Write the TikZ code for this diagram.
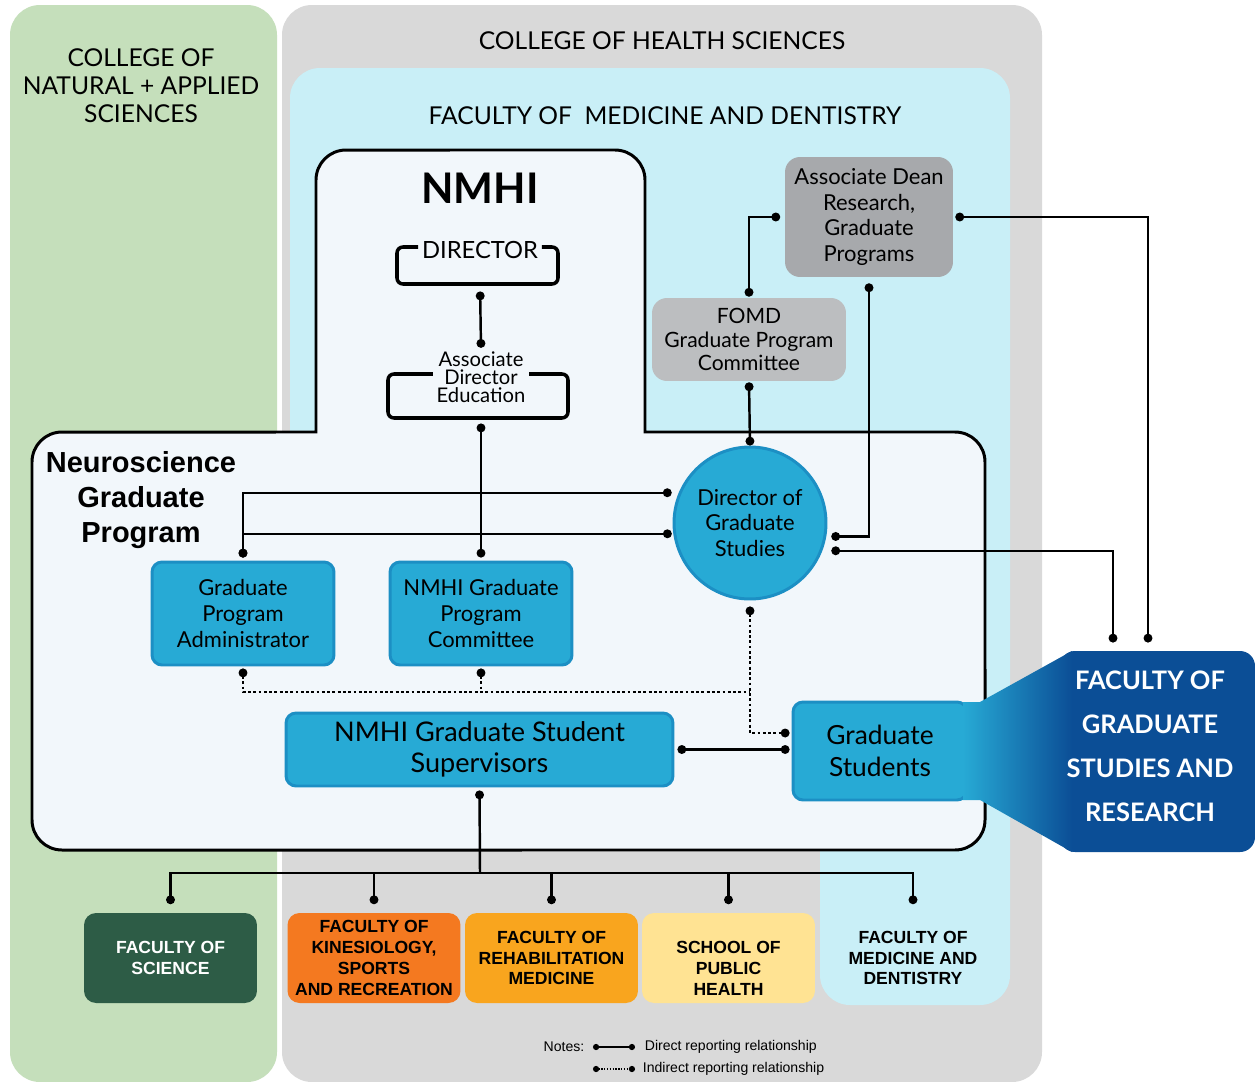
\documentclass[tikz,border=0pt]{standalone}
\usepackage{fontspec}
\setmainfont{Lato}
\newfontfamily\arialfont{Liberation Sans}
\usetikzlibrary{arrows.meta, calc, positioning}

\definecolor{nasgreen}{RGB}{197,223,187}
\definecolor{chsgrey}{RGB}{217,217,217}
\definecolor{fomdblue}{RGB}{201,239,247}
\definecolor{nmhiwhite}{RGB}{242,247,251}
\definecolor{gsblue}{RGB}{39,170,213}
\definecolor{gsedge}{RGB}{28,143,196}
\definecolor{deangrey}{RGB}{167,169,172}
\definecolor{fomdgrey}{RGB}{188,190,192}
\definecolor{fosgreen}{RGB}{45,92,70}
\definecolor{ksrorange}{RGB}{244,121,32}
\definecolor{rehabgold}{RGB}{249,165,30}
\definecolor{sphyellow}{RGB}{255,227,147}
\definecolor{fgsrblue}{RGB}{11,78,150}

\tikzset{
  region/.style   = {rounded corners=0.6cm},
  title/.style    = {align=center, font=\fontsize{14}{15.9}\selectfont},
  bluebox/.style  = {shape=rectangle, rounded corners=0.2cm,
                     draw=gsedge, line width=1.7pt, fill=gsblue, align=center,
                     font=\fontsize{12.5}{14.7}\selectfont},
  greybox/.style  = {shape=rectangle, rounded corners=0.3cm, align=center,
                     font=\fontsize{12.5}{14.7}\selectfont},
  faculty/.style  = {shape=rectangle, rounded corners=0.24cm, align=center,
                     minimum width=3.46cm, minimum height=1.8cm,
                     font=\arialfont\bfseries\fontsize{10}{11.9}\selectfont},
  factext/.style  = {align=center, font=\arialfont\bfseries\fontsize{10}{11.9}\selectfont},
  bracket/.style  = {line width=2pt, rounded corners=0.12cm},
  rel/.style      = {line width=1.4pt, arrows={Circle[length=5pt]-Circle[length=5pt]}},
  indrel/.style   = {rel, dash pattern=on 1.6pt off 1.4pt},
  dotstart/.style = {arrows={Circle[length=5pt]-}},
  dotend/.style   = {arrows={-Circle[length=5pt]}},
  legline/.style  = {line width=0.8pt, arrows={Circle[length=3.5pt]-Circle[length=3.5pt]}},
  notes/.style    = {font=\arialfont\fontsize{8}{9}\selectfont}
}

\begin{document}
\begin{tikzpicture}[x=0.02cm, y=-0.02cm, every node/.style={inner sep=2pt}]
\useasboundingbox (0,0) rectangle (1255,1082);
\fill[white] (0,0) rectangle (1255,1082);

% colleges and faculty
\fill[nasgreen, region] (10,5) rectangle (277,1082);
\fill[chsgrey, region] (282,5) rectangle (1042,1082);
\fill[fomdblue] (290,850) -- (290,98) arc[start angle=180, end angle=90, radius=0.6cm]
  -- (980,68) arc[start angle=90, end angle=0, radius=0.6cm]
  -- (1010,975) arc[start angle=0, end angle=-90, radius=0.6cm]
  -- (850,1005) arc[start angle=-90, end angle=-180, radius=0.6cm]
  -- (820,850) -- cycle;

\node[title] (cnas) at (141,86) {COLLEGE OF\\NATURAL + APPLIED\\SCIENCES};
\node[title] (chs) at (662,41) {COLLEGE OF HEALTH SCIENCES};
\node[title] (fomd) at (665,116) {FACULTY OF\ \ MEDICINE AND DENTISTRY};

% NMHI + neuroscience program
\draw[fill=nmhiwhite, line width=1.7pt] (316,432) -- (316,180) arc[start angle=180, end angle=90, radius=0.6cm]
  -- (615,150) arc[start angle=90, end angle=0, radius=0.6cm]
  -- (645,432) -- (955,432) arc[start angle=90, end angle=0, radius=0.6cm]
  -- (985,820) arc[start angle=0, end angle=-90, radius=0.6cm]
  -- (62,850) arc[start angle=-90, end angle=-180, radius=0.6cm]
  -- (32,462) arc[start angle=180, end angle=90, radius=0.6cm] -- cycle;

\node[font=\bfseries\fontsize{24}{28}\selectfont] (nmhi) at (480,188) {NMHI};
\node[align=center, font=\arialfont\bfseries\fontsize{16.5}{19.8}\selectfont] (ngp) at (141,500)
  {Neuroscience\\Graduate\\Program};

\node[font=\fontsize{13.5}{16}\selectfont] (dir) at (480,250) {DIRECTOR};
\coordinate (dirbl) at (397,284);
\coordinate (dirtr) at (558,247);
\draw[bracket] (dir.west |- dirtr) -- (dirbl |- dirtr) -- (dirbl) -- (dirtr |- dirbl) -- (dirtr) -- (dir.east |- dirtr);

\node[align=center, font=\fontsize{11.5}{10.2}\selectfont] (adir) at (481,377) {Associate\\Director\\Education};
\coordinate (adirbl) at (388,418);
\coordinate (adirtr) at (568,374);
\draw[bracket] (adir.west |- adirtr) -- (adirbl |- adirtr) -- (adirbl) -- (adirtr |- adirbl) -- (adirtr) -- (adir.east |- adirtr);

\node[greybox, fill=deangrey, minimum width=3.36cm, minimum height=2.4cm] (adean) at (869,217)
  {Associate Dean\\Research,\\Graduate\\Programs};
\node[greybox, fill=fomdgrey, minimum width=3.88cm, minimum height=1.66cm, font=\fontsize{12}{13.6}\selectfont] (fomdgpc) at (749,339.5)
  {FOMD\\Graduate Program\\Committee};

\node[bluebox, circle, minimum size=3.04cm, inner sep=0pt] (dgs) at (750,523) {Director of\\Graduate\\Studies};
\node[bluebox, minimum width=3.64cm, minimum height=2.06cm] (gpa) at (243,613.5) {Graduate\\Program\\Administrator};
\node[bluebox, minimum width=3.64cm, minimum height=2.06cm] (ngpc) at (481,613.5) {NMHI Graduate\\Program\\Committee};
\node[bluebox, minimum width=7.74cm, minimum height=1.46cm, font=\fontsize{15.4}{18}\selectfont] (sup) at (479.5,749.5)
  {NMHI Graduate Student\\Supervisors};
\node[bluebox, minimum width=3.48cm, minimum height=1.96cm, font=\fontsize{15}{18}\selectfont] (gs) at (880,751)
  {Graduate\\Students};

% FGSR
\fill[fgsrblue, rounded corners=0.3cm] (1060,651) rectangle (1255,852);
\shade[left color=gsblue, right color=fgsrblue] (963,702) -- (980,702) -- (1072,651) -- (1072,852) -- (980,800) -- (963,800) -- cycle;
\node[align=center, text=white, font=\bfseries\fontsize{14.5}{25}\selectfont] (fgsr) at (1150,746)
  {FACULTY OF\\GRADUATE\\STUDIES AND\\RESEARCH};
\coordinate (fgsrleft) at (1113,651);
\coordinate (fgsrright) at (1148,651);

% reporting lines
\draw[rel, shorten <=0.15cm] (dir |- dirbl) -- (adir.north);
\draw[rel, shorten <=0.11cm, shorten >=0.06cm] (adir |- adirbl) -- (ngpc.north);
\draw[rel, shorten <=0.09cm, shorten >=0.02cm] (adean.west) -| (fomdgpc.north);
\draw[rel, shorten <=0.02cm] (fomdgpc.south) -- (dgs.north);
\draw[rel, shorten <=0.12cm, shorten >=0.1cm] (adean.south) |- (dgs.-10);
\draw[rel, shorten <=0.18cm, shorten >=0.17cm] (dgs.-21) -| (fgsrleft);
\draw[rel, shorten <=0.04cm, shorten >=0.17cm] (adean.east) -| (fgsrright);
\draw[rel, shorten <=0.06cm, shorten >=0.14cm] (gpa.north) |- (dgs.157);
\draw[rel, shorten <=0.06cm, shorten >=0.03cm] (gpa.north) |- (dgs.188);
\draw[rel, shorten <=0.06cm, shorten >=0.04cm] (sup.east) -- (sup.east -| gs.west);

\coordinate (dotjoin) at (750,692);
\draw[indrel, dotstart, shorten <=0.04cm] (gpa.south) |- (dotjoin);
\draw[indrel, dotstart, shorten <=0.04cm] (ngpc.south) -- (ngpc.south |- dotjoin);
\draw[indrel, shorten <=0.12cm, shorten >=0.04cm] (dgs.south) |- ([yshift=0.36cm]gs.west);

% faculties below
\node[faculty, fill=fosgreen, text=white] (fos) at (170.5,958) {FACULTY OF\\SCIENCE};
\node[faculty, fill=ksrorange] (fksr) at (374,958) {FACULTY OF\\KINESIOLOGY,\\SPORTS\\AND RECREATION};
\node[faculty, fill=rehabgold] (frm) at (551.5,958) {FACULTY OF\\REHABILITATION\\MEDICINE};
\node[faculty, fill=sphyellow] (sph) at (728.5,958) {};
\node[factext] (sphtext) at (728.5,968.5) {SCHOOL OF\\PUBLIC\\HEALTH};
\node[faculty] (fomdb) at (913,958) {FACULTY OF\\MEDICINE AND\\DENTISTRY};

\coordinate (bus) at (480,873);
\draw[rel, dotstart, shorten <=0.06cm] (sup.south) -- (bus);
\foreach \f in {fos, fksr, frm, sph, fomdb}
  \draw[rel, dotend, shorten >=0.17cm] (bus) -| (\f.north);

% notes
\node[notes] (notes) at (564,1047) {Notes:};
\node[notes, anchor=west] (ldirect) at (641,1047) {Direct reporting relationship};
\node[notes, anchor=west] (lindirect) at (639,1069) {Indirect reporting relationship};
\coordinate (leg1) at ([xshift=-0.96cm]ldirect.west);
\coordinate (leg2) at ([xshift=-0.12cm]ldirect.west);
\draw[legline] (leg1) -- (leg2);
\draw[legline, dash pattern=on 0.8pt off 0.8pt] (leg1 |- lindirect) -- (leg2 |- lindirect);
\end{tikzpicture}
\end{document}
